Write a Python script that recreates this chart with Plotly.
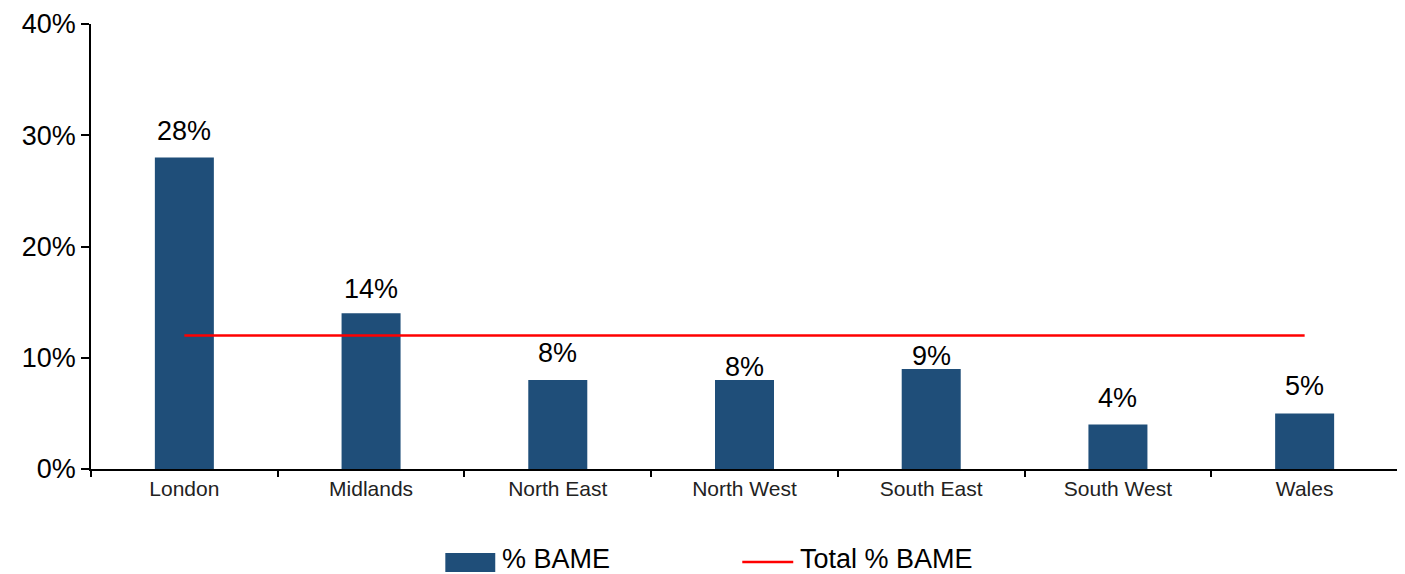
import plotly.graph_objects as go

regions = ["London", "Midlands", "North East", "North West", "South East", "South West", "Wales"]
pct_bame = [28, 14, 8, 8, 9, 4, 5]
total_pct_bame = [12, 12, 12, 12, 12, 12, 12]
label_texts = ["28%", "14%", "8%", "8%", "9%", "4%", "5%"]
legend_names = ["% BAME", "Total % BAME"]
label_shift = [27, 24, 27, 13, 13, 27, 27]

FONT = "Liberation Sans, Arial, sans-serif"
BAR_COLOR = "#1F4E79"
LINE_COLOR = "#FF0000"

fig = go.Figure()
fig.add_trace(go.Bar(
    x=regions, y=pct_bame, name=legend_names[0],
    marker=dict(color=BAR_COLOR, line=dict(width=0)),
    width=0.316, hoverinfo="x+y", showlegend=False,
))
fig.add_trace(go.Scatter(
    x=regions, y=total_pct_bame, name=legend_names[1], mode="lines",
    line=dict(color=LINE_COLOR, width=2.5), showlegend=False,
))

for r, v, t, s in zip(regions, pct_bame, label_texts, label_shift):
    fig.add_annotation(x=r, y=v, text=t, showarrow=False, yanchor="middle",
                       yshift=s, font=dict(size=27, color="#000000", family=FONT))

# legend drawn below the plot (paper coordinates)
fig.add_shape(type="rect", xref="paper", yref="paper",
              x0=0.2711, x1=0.3093, y0=-0.2315, y1=-0.1888,
              fillcolor=BAR_COLOR, line=dict(width=0))
fig.add_annotation(xref="paper", yref="paper", x=0.3140, y=-0.2022,
                   xanchor="left", yanchor="middle", showarrow=False, borderpad=0,
                   text=legend_names[0], font=dict(size=27, color="#000000", family=FONT))
fig.add_shape(type="line", xref="paper", yref="paper",
              x0=0.4983, x1=0.5373, y0=-0.209, y1=-0.209,
              line=dict(color=LINE_COLOR, width=2.5))
fig.add_annotation(xref="paper", yref="paper", x=0.5420, y=-0.2022,
                   xanchor="left", yanchor="middle", showarrow=False, borderpad=0,
                   text=legend_names[1], font=dict(size=27, color="#000000", family=FONT))

fig.update_layout(
    width=1397, height=566,
    margin=dict(l=83, r=7, t=16, b=105),
    plot_bgcolor="white", paper_bgcolor="white",
    font=dict(family=FONT, color="#000000"),
    showlegend=False,
)
fig.update_xaxes(
    automargin=False,
    showline=True, linecolor="#000000", linewidth=2,
    ticks="outside", tickson="boundaries", ticklen=6, tickwidth=2, tickcolor="#000000",
    tickfont=dict(size=21, family=FONT, color="#222222"),
    showgrid=False, zeroline=False,
)
fig.update_yaxes(
    automargin=False,
    range=[0, 40], dtick=10, ticksuffix="%",
    showline=True, linecolor="#000000", linewidth=1.5,
    ticks="outside", ticklen=8, tickwidth=1.5, tickcolor="#000000",
    tickfont=dict(size=27, family=FONT, color="#000000"),
    showgrid=False, zeroline=False,
)

fig.write_html("out.html")
